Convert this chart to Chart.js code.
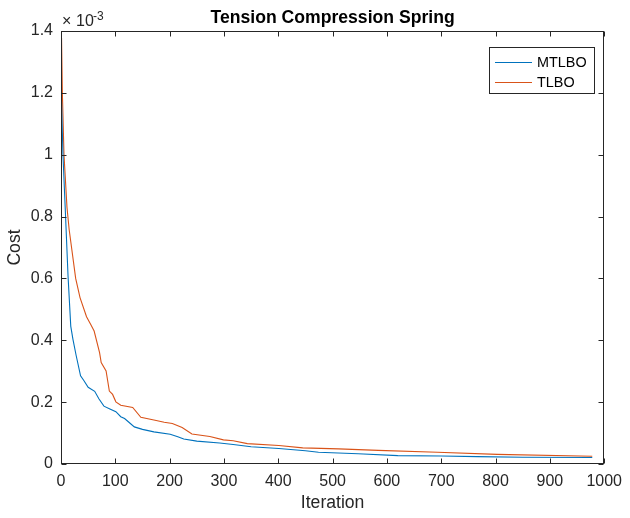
<!DOCTYPE html>
<html>
<head>
<meta charset="utf-8">
<script src="https://cdn.jsdelivr.net/npm/chart.js@4.4.1/dist/chart.umd.min.js"></script>
<style>
  html, body { margin: 0; padding: 0; background: #fff; }
  canvas { display: block; }
</style>
</head>
<body>
<canvas id="chart" width="630" height="518"></canvas>
<script>
// cost values are in units of 1e-3 (the axis shows the x10^-3 factor)
const mtlboIter = [1, 3.6, 8, 13, 18, 22, 28, 36, 42, 50, 62, 70, 79, 90, 101, 110, 117, 125, 135, 150, 171, 201, 215, 226, 250, 292, 317, 350, 401, 450, 474, 547, 620, 700, 766, 850, 978]
const mtlboCost = [1.172, 1.0, 0.817, 0.606, 0.445, 0.403, 0.35, 0.285, 0.27, 0.248, 0.235, 0.21, 0.187, 0.178, 0.169, 0.153, 0.147, 0.135, 0.12, 0.112, 0.104, 0.096, 0.088, 0.081, 0.074, 0.068, 0.063, 0.056, 0.05, 0.043, 0.038, 0.033, 0.027, 0.026, 0.024, 0.022, 0.021]

const tlboIter = [1, 2.5, 5.5, 11, 15, 27, 35, 47, 55, 61, 71, 74, 83, 89, 95, 101, 110, 132, 147, 171, 190, 205, 223, 241, 274, 299, 317, 343, 401, 445, 511, 584, 693, 803, 978]
const tlboCost = [1.378, 1.2, 1.0, 0.83, 0.758, 0.6, 0.538, 0.476, 0.45, 0.43, 0.36, 0.328, 0.301, 0.236, 0.225, 0.201, 0.19, 0.183, 0.151, 0.142, 0.135, 0.131, 0.118, 0.097, 0.089, 0.078, 0.075, 0.066, 0.06, 0.052, 0.049, 0.044, 0.038, 0.031, 0.025]

const xTicks = [0, 100, 200, 300, 400, 500, 600, 700, 800, 900, 1000]
const yTicks = [0, 0.2, 0.4, 0.6, 0.8, 1, 1.2, 1.4]

const FONT = "'Liberation Sans', Arial, Helvetica, sans-serif"
const AXIS_COLOR = '#262626'

const toPoints = (xs, ys) => xs.map((x, i) => ({ x: x, y: ys[i] }))

// box, inside ticks, exponent, title and legend, MATLAB style
const matlabAxes = {
    id: 'matlabAxes',
    afterDraw(chart) {
        const { ctx, chartArea: a, scales } = chart
        const L = Math.round(a.left) + 0.5, R = Math.round(a.right) - 0.5
        const T = Math.round(a.top) + 0.5, B = Math.round(a.bottom) - 0.5
        ctx.save()
        ctx.strokeStyle = AXIS_COLOR
        ctx.lineWidth = 1
        ctx.strokeRect(L, T, R - L, B - T)

        const tick = 5
        ctx.beginPath()
        xTicks.forEach(v => {
            const px = Math.round(scales.x.getPixelForValue(v)) + 0.5
            ctx.moveTo(px, B); ctx.lineTo(px, B - tick)
            ctx.moveTo(px, T); ctx.lineTo(px, T + tick)
        })
        yTicks.forEach(v => {
            const py = Math.round(scales.y.getPixelForValue(v)) + 0.5
            ctx.moveTo(L, py); ctx.lineTo(L + tick, py)
            ctx.moveTo(R, py); ctx.lineTo(R - tick, py)
        })
        ctx.stroke()

        // exponent label
        ctx.fillStyle = AXIS_COLOR
        ctx.textBaseline = 'alphabetic'
        ctx.textAlign = 'left'
        ctx.font = '16px ' + FONT
        ctx.fillText('\u00d7', 62, 26)
        ctx.fillText('10', 76, 26)
        ctx.font = '12px ' + FONT
        ctx.fillText('-3', 93, 20)

        // title
        ctx.fillStyle = '#000'
        ctx.font = 'bold 17.6px ' + FONT
        ctx.textAlign = 'center'
        ctx.fillText('Tension Compression Spring', (a.left + a.right) / 2, 23)

        // legend
        const lx = 489.5, ly = 47.5, lw = 105, lh = 46
        ctx.fillStyle = '#fff'
        ctx.fillRect(lx, ly, lw, lh)
        ctx.strokeStyle = AXIS_COLOR
        ctx.strokeRect(lx, ly, lw, lh)
        ctx.font = '14.4px ' + FONT
        ctx.textAlign = 'left'
        ctx.textBaseline = 'middle'
        chart.data.datasets.forEach((ds, i) => {
            const y = 62 + i * 20
            ctx.strokeStyle = ds.borderColor
            ctx.lineWidth = 1
            ctx.beginPath()
            ctx.moveTo(495, y + 0.5); ctx.lineTo(532, y + 0.5)
            ctx.stroke()
            ctx.fillStyle = '#000'
            ctx.fillText(ds.label, 537, y + 1)
        })
        ctx.restore()
    }
}

new Chart(document.getElementById('chart'), {
    type: 'line',
    data: {
        datasets: [
            {
                label: 'MTLBO',
                data: toPoints(mtlboIter, mtlboCost),
                borderColor: '#0072BD',
                borderWidth: 1.1,
                pointRadius: 0,
                tension: 0,
                fill: false,
            },
            {
                label: 'TLBO',
                data: toPoints(tlboIter, tlboCost),
                borderColor: '#D95319',
                borderWidth: 1.1,
                pointRadius: 0,
                tension: 0,
                fill: false,
            }
        ]
    },
    options: {
        responsive: false,
        animation: false,
        layout: { padding: { top: 31, right: 20, left: 0, bottom: 0 } },
        plugins: {
            legend: { display: false },
            title: { display: false },
            tooltip: { enabled: false },
        },
        scales: {
            x: {
                type: 'linear',
                min: 0,
                max: 1000,
                afterBuildTicks: (scale) => { scale.ticks = xTicks.map(v => ({ value: v })) },
                afterFit: (scale) => { scale.height = 54 },
                grid: { display: false, drawTicks: false },
                border: { display: false },
                ticks: { color: AXIS_COLOR, font: { family: FONT, size: 16 }, padding: 8, maxRotation: 0, callback: (v) => String(v) },
                title: { display: true, text: 'Iteration', color: AXIS_COLOR, font: { family: FONT, size: 17.6 }, padding: { top: 4, bottom: 4 } },
            },
            y: {
                type: 'linear',
                min: 0,
                max: 1.4,
                afterBuildTicks: (scale) => { scale.ticks = yTicks.map(v => ({ value: v })) },
                afterFit: (scale) => { scale.width = 61 },
                grid: { display: false, drawTicks: false },
                border: { display: false },
                ticks: { color: AXIS_COLOR, font: { family: FONT, size: 16 }, padding: 8, callback: (v) => String(Math.round(v * 10) / 10) },
                title: { display: true, text: 'Cost', color: AXIS_COLOR, font: { family: FONT, size: 17.6 }, padding: { top: 5, bottom: 4 } },
            }
        }
    },
    plugins: [matlabAxes]
})
</script>
</body>
</html>
